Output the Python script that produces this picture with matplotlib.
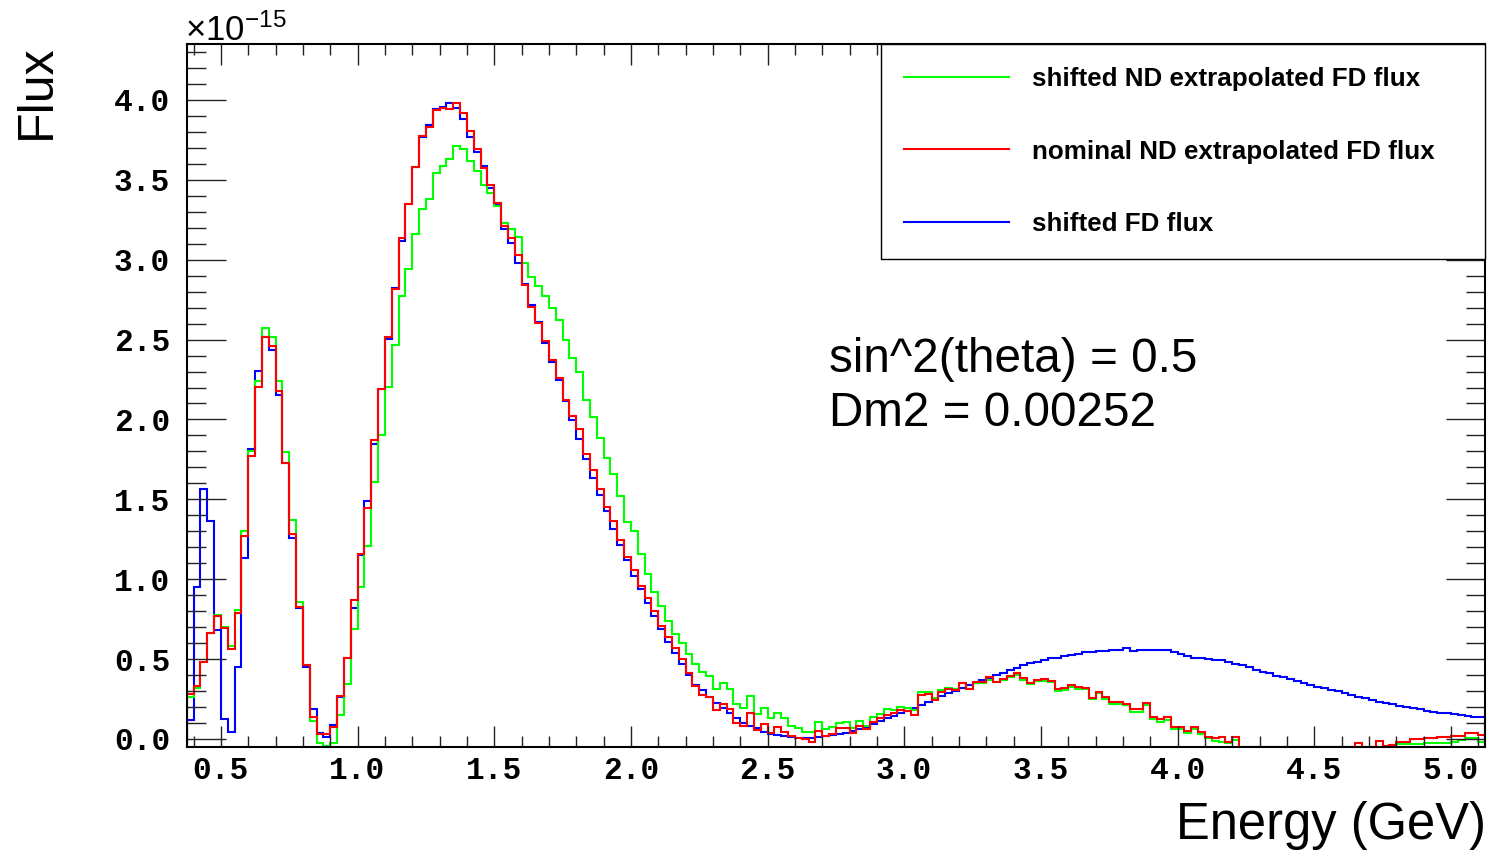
import numpy as np
import matplotlib
matplotlib.use("Agg")
import matplotlib.pyplot as plt
from matplotlib.ticker import MultipleLocator
from matplotlib.lines import Line2D

# ---------------- data (flux in units of 1e-15) ----------------
E_LOW, E_HIGH, N_BINS = 0.375, 5.125, 190
edges = np.linspace(E_LOW, E_HIGH, N_BINS + 1)

# green : shifted ND extrapolated FD flux
shifted_nd_extrap = (
    [0.264, 0.320, 0.479, 0.665, 0.775, 0.702, 0.583, 0.806, 1.300, 1.800,
     2.240, 2.573, 2.517, 2.238, 1.795, 1.369, 0.858, 0.462, 0.115, -0.023,
     -0.044, -0.027, 0.148, 0.346, 0.686, 0.951, 1.205]
    + [1.610, 1.900, 2.203, 2.467, 2.770, 2.941, 3.158, 3.316, 3.381, 3.540,
       3.586, 3.632, 3.711, 3.693, 3.619, 3.553, 3.468, 3.416, 3.337, 3.231,
       3.192, 3.139, 2.981, 2.889, 2.836]
    + [2.770, 2.700]
    + [2.623, 2.500, 2.383, 2.296, 2.119, 2.015, 1.885, 1.758, 1.656, 1.521,
       1.358, 1.300]
    + [1.160, 1.030, 0.920, 0.830, 0.740, 0.660, 0.600, 0.530, 0.470]
    + [0.421, 0.394, 0.310, 0.348, 0.310, 0.217, 0.194, 0.271, 0.154, 0.194,
       0.129, 0.165, 0.129, 0.081, 0.067, 0.046, 0.046, 0.108, 0.060, 0.077,
       0.098, 0.108, 0.067, 0.115, 0.081, 0.135, 0.156, 0.185, 0.181, 0.198,
       0.194, 0.181, 0.296, 0.296, 0.254, 0.306, 0.317, 0.310, 0.348, 0.310,
       0.350, 0.350, 0.370, 0.358, 0.370, 0.385, 0.400, 0.370, 0.345, 0.360,
       0.365, 0.355, 0.300, 0.305, 0.328, 0.315, 0.310, 0.250, 0.285, 0.250,
       0.220, 0.220, 0.210, 0.170, 0.170, 0.215]
    + [0.125, 0.108, 0.119, 0.060, 0.060, 0.035, 0.060, 0.031, 0.004, -0.011,
       -0.017, -0.027, -0.006]
    + [-0.048] * 23
    + [-0.031, -0.031, -0.031, -0.031, -0.027, -0.027, -0.027, -0.027, -0.017,
       -0.006, 0.004, 0.004, -0.017]
)

# red : nominal ND extrapolated FD flux
nominal_nd_extrap = (
    [0.279, 0.333, 0.479, 0.665, 0.769, 0.692, 0.562, 0.790, 1.271, 1.771,
     2.202, 2.519, 2.462, 2.175, 1.727, 1.281, 0.827, 0.462, 0.139, 0.031,
     0.029, 0.073, 0.270, 0.505, 0.872, 1.160, 1.445]
    + [1.873, 2.190, 2.519, 2.817, 3.134, 3.350, 3.582, 3.772, 3.830, 3.936,
       3.951, 3.944, 3.983, 3.917, 3.806, 3.693, 3.574, 3.468, 3.355, 3.213,
       3.134, 3.028, 2.844, 2.704, 2.606]
    + [2.490, 2.370]
    + [2.258, 2.119, 2.021, 1.942, 1.781, 1.681, 1.562, 1.452, 1.365, 1.244,
       1.140, 1.060]
    + [0.960, 0.880, 0.800, 0.710, 0.640, 0.570, 0.500, 0.410, 0.330]
    + [0.275, 0.265, 0.181, 0.219, 0.185, 0.098, 0.081, 0.165, 0.056, 0.094,
       0.035, 0.077, 0.046, 0.019, 0.004, -0.002, -0.017, 0.052, 0.019, 0.031,
       0.067, 0.067, 0.035, 0.081, 0.060, 0.108, 0.129, 0.150, 0.165, 0.181,
       0.177, 0.150, 0.275, 0.281, 0.244, 0.296, 0.310, 0.306, 0.348, 0.310,
       0.358, 0.358, 0.385, 0.358, 0.373, 0.394, 0.415, 0.383, 0.352, 0.369,
       0.373, 0.365, 0.310, 0.317, 0.338, 0.323, 0.317, 0.258, 0.296, 0.260,
       0.233, 0.233, 0.219, 0.185, 0.185, 0.227]
    + [0.140, 0.123, 0.140, 0.077, 0.077, 0.052, 0.077, 0.046, 0.010, 0.004,
       0.010, -0.017, 0.010]
    + [-0.048] * 17
    + [-0.027, -0.048, -0.048, -0.015, -0.044, -0.037, -0.017, -0.017, -0.002,
       -0.002, 0.004, 0.004, 0.010, 0.010, 0.019, 0.019, 0.035, 0.035, 0.025]
)

# blue : shifted FD flux
shifted_fd = (
    [0.119, 0.952, 1.567, 1.364, 0.680, 0.125, 0.044, 0.452, 1.135, 1.817,
     2.306, 2.519, 2.435, 2.150, 1.727, 1.260, 0.817, 0.452, 0.185, 0.035,
     0.010, 0.088, 0.264, 0.508, 0.820, 1.150, 1.487]
    + [1.847, 2.190, 2.506, 2.820, 3.118, 3.350, 3.580, 3.770, 3.840, 3.944,
       3.956, 3.978, 3.951, 3.883, 3.767, 3.672, 3.585, 3.450, 3.350, 3.192,
       3.107, 2.981, 2.850, 2.717, 2.610]
    + [2.480, 2.360]
    + [2.244, 2.115, 1.998, 1.879, 1.754, 1.633, 1.525, 1.425, 1.317, 1.212,
       1.120, 1.020]
    + [0.940, 0.850, 0.770, 0.690, 0.610, 0.540, 0.470, 0.400, 0.340]
    + [0.306, 0.265, 0.223, 0.194, 0.165, 0.129, 0.102, 0.081, 0.067, 0.046,
       0.031, 0.025, 0.019, 0.012, 0.009, 0.004, 0.009, 0.015, 0.019, 0.025,
       0.031, 0.040, 0.052, 0.065, 0.077, 0.094, 0.115, 0.129, 0.144, 0.160,
       0.177, 0.194, 0.213, 0.233, 0.248, 0.269, 0.285, 0.302, 0.317, 0.338,
       0.352, 0.369, 0.383, 0.400, 0.415, 0.431, 0.446, 0.460, 0.473, 0.483,
       0.494, 0.504, 0.510, 0.519, 0.525, 0.535, 0.542, 0.546, 0.548, 0.550,
       0.560, 0.554, 0.567, 0.552, 0.556, 0.556]
    + [0.556, 0.554, 0.554, 0.546, 0.531, 0.519, 0.510, 0.504, 0.498, 0.494,
       0.494, 0.479, 0.469, 0.463, 0.452, 0.431, 0.421, 0.410, 0.394, 0.385,
       0.373, 0.363, 0.348, 0.338, 0.327, 0.317, 0.306, 0.300, 0.290, 0.275,
       0.265, 0.254, 0.244, 0.233, 0.223, 0.219, 0.206, 0.198, 0.192, 0.185,
       0.177, 0.171, 0.165, 0.160, 0.156, 0.150, 0.146, 0.140, 0.135]
)

series_labels = ["shifted ND extrapolated FD flux",
                 "nominal ND extrapolated FD flux",
                 "shifted FD flux"]
series_colors = ["#00ff00", "#ff0000", "#0000ff"]

x_ticks = [0.5, 1.0, 1.5, 2.0, 2.5, 3.0, 3.5, 4.0, 4.5, 5.0]
x_tick_labels = ["0.5", "1.0", "1.5", "2.0", "2.5", "3.0", "3.5", "4.0", "4.5", "5.0"]
y_ticks = [0.0, 0.5, 1.0, 1.5, 2.0, 2.5, 3.0, 3.5, 4.0]
y_tick_labels = ["0.0", "0.5", "1.0", "1.5", "2.0", "2.5", "3.0", "3.5", "4.0"]

Y_LOW, Y_HIGH = -0.052, 4.35

# ---------------- figure ----------------
plt.rcParams["mathtext.fontset"] = "custom"
plt.rcParams["mathtext.rm"] = "Liberation Sans"
plt.rcParams["mathtext.it"] = "Liberation Sans"

W, H = 1487, 851
fig = plt.figure(figsize=(W / 100, H / 100), dpi=100)
ax = fig.add_axes([186.7 / W, 1 - 747.3 / H, (1485 - 186.7) / W, (747.3 - 44) / H])

# draw order: blue, green, red (red on top)
data_series = [shifted_nd_extrap, nominal_nd_extrap, shifted_fd]
for idx in (2, 0, 1):
    ax.stairs(data_series[idx], edges, baseline=Y_LOW, color=series_colors[idx],
              linewidth=1.5, fill=False)

ax.set_xlim(E_LOW, E_HIGH)
ax.set_ylim(Y_LOW, Y_HIGH)

tick_font = dict(family="Liberation Mono", weight="bold", size=22.5)
ax.set_xticks(x_ticks, x_tick_labels, **tick_font)
ax.set_yticks(y_ticks, y_tick_labels, **tick_font)
ax.xaxis.set_minor_locator(MultipleLocator(0.1))
ax.yaxis.set_minor_locator(MultipleLocator(0.1))

ax.tick_params(which="both", direction="in", top=True, right=True,
               color="#222222", width=1.0)
ax.tick_params(axis="x", which="major", length=15, pad=6)
ax.tick_params(axis="x", which="minor", length=8)
ax.tick_params(axis="y", which="major", length=28, pad=12)
ax.tick_params(axis="y", which="minor", length=14)
for sp in ax.spines.values():
    sp.set_linewidth(1.5)
    sp.set_color("black")

# legend
handles = [Line2D([], [], color=c, lw=1.5) for c in series_colors]
leg = ax.legend(handles, series_labels, loc="upper left",
                bbox_to_anchor=((881 - 186.7) / 1298.3, (747.3 - 257) / 703.3,
                                (1485 - 881) / 1298.3, (257 - 44) / 703.3),
                mode="expand", borderaxespad=0, borderpad=0.88,
                labelspacing=1.87, handlelength=4.03, handletextpad=0.88,
                prop=dict(family="Liberation Sans", weight="bold", size=18.75),
                frameon=True, fancybox=False, framealpha=1.0, edgecolor="black")
leg.get_frame().set_linewidth(1.0)

# annotations
ax.text((829 - 186.7) / 1298.3, (747.3 - 372) / 703.3, "sin^2(theta) = 0.5",
        transform=ax.transAxes, fontsize=34.3, family="Liberation Sans",
        va="baseline", ha="left")
ax.text((829 - 186.7) / 1298.3, (747.3 - 426) / 703.3, "Dm2 = 0.00252",
        transform=ax.transAxes, fontsize=34.3, family="Liberation Sans",
        va="baseline", ha="left")

# axis titles and exponent
fig.text(37 / W, 1 - 44 / H, "Flux", rotation=90, ha="center", va="top",
         fontsize=36, family="Liberation Sans")
fig.text(1486 / W, 1 - 839 / H, "Energy (GeV)", ha="right", va="baseline",
         fontsize=36.5, family="Liberation Sans")
fig.text(185 / W, 1 - 41 / H, r"$\times10^{-15}$", ha="left", va="baseline",
         fontsize=25)

fig.savefig("out.png", dpi=100, facecolor="white")
